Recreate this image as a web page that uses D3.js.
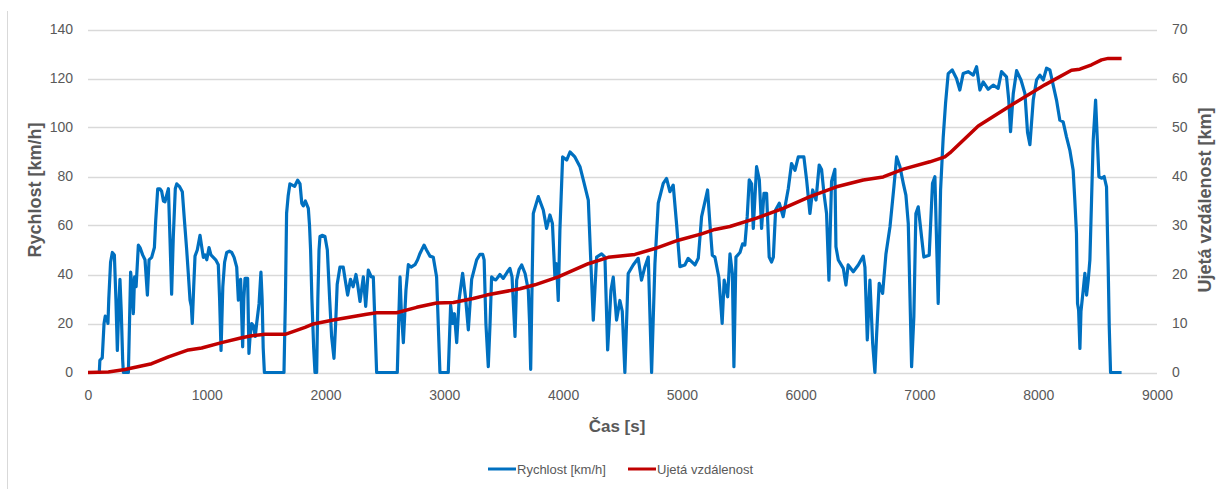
<!DOCTYPE html>
<html><head><meta charset="utf-8">
<script src="https://cdn.jsdelivr.net/npm/d3@7"></script>
<style>body{margin:0;background:#fff} svg{display:block}</style>
</head><body><svg id="c" width="1229" height="489"></svg>
<script>
const speedTime=[0,95,100,120,135,145,160,168,175,190,205,222,235,247,258,269,280,292,298,340,359,370,382,392,405,424,438,460,480,500,514,536,559,570,587,605,620,635,648,660,677,690,704,718,735,747,769,794,812,831,845,859,870,878,890,901,920,943,955,971,985,1000,1019,1035,1055,1075,1097,1108,1120,1135,1150,1168,1190,1210,1230,1252,1266,1275,1285,1302,1312,1322,1344,1355,1365,1378,1395,1408,1420,1440,1456,1466,1475,1485,1650,1662,1672,1685,1700,1740,1765,1785,1800,1813,1830,1855,1865,1874,1885,1900,1911,1925,1935,1945,1953,1975,1995,2015,2035,2051,2071,2085,2098,2121,2135,2149,2165,2186,2210,2232,2256,2270,2290,2318,2338,2360,2385,2402,2416,2430,2604,2615,2627,2638,2655,2677,2697,2720,2753,2775,2795,2829,2850,2879,2907,2935,2945,2963,3033,3053,3070,3085,3104,3125,3154,3180,3202,3230,3272,3300,3323,3335,3350,3370,3385,3398,3420,3434,3468,3496,3530,3552,3570,3595,3609,3629,3651,3680,3707,3718,3727,3740,3749,3791,3833,3861,3889,3910,3931,3945,3959,3973,3996,4030,4058,4099,4142,4170,4212,4234,4254,4282,4324,4352,4375,4403,4422,4450,4478,4498,4520,4548,4590,4632,4660,4689,4717,4745,4773,4801,4843,4871,4899,4927,4956,4983,5025,5053,5110,5138,5166,5216,5236,5256,5278,5311,5339,5356,5385,5405,5425,5438,5455,5489,5511,5530,5550,5567,5587,5601,5629,5652,5671,5691,5713,5735,5755,5770,5789,5820,5853,5896,5923,5952,5980,6027,6050,6078,6101,6129,6156,6176,6196,6218,6238,6260,6288,6297,6317,6359,6381,6400,6443,6485,6527,6541,6561,6583,6606,6625,6639,6661,6690,6718,6752,6785,6808,6836,6864,6886,6906,6934,6953,6970,6990,7018,7037,7082,7110,7130,7158,7178,7200,7220,7242,7276,7312,7340,7368,7410,7453,7481,7509,7537,7579,7621,7663,7691,7733,7752,7767,7790,7818,7855,7888,7910,7930,7958,7986,8014,8042,8070,8098,8126,8154,8182,8210,8238,8266,8294,8308,8322,8331,8340,8351,8360,8379,8393,8407,8421,8435,8449,8463,8483,8500,8511,8533,8555,8575,8589,8598,8609,8702];
const speedKmh=[0,0,5,6,20,23,22,20,30,45,49,48,30,9,25,38,25,5,0,0,41,35,24,39,35,52,51,48,46,31.6,46,47,51,62,75,75,74,70,69.7,72,75,55,32,55,75,77,76,73.8,62,50,40,29.5,27,20,35,47.5,50,56,52,47,48,46,51,48,47,46,44,30,9,35,45,49,49.5,49,47,43,29.5,36,38,10.5,30,38.4,38.4,7.8,15,20,19,14.7,20,28,41,30,10,0,0,30,65,72,77,76,78.5,77,69,68,70,67,60,50,30,10,0,0,30,50,55.5,56,55.5,50,29.5,14.7,5.8,20,36,43,43,43,38,31.6,38,35,40,36,29,39,27,41.8,39,39,20,0,0,20,39,25,12.2,33.7,44,43,44,46,48.6,52,50,47.5,47,39,25,0,0,27.5,20,24,12.2,30,40.5,30,17.4,38,46,48.2,48.2,46,20,2.4,20,39,38,37.8,40,38.4,41,42.5,39,14.7,37.7,42,43.9,40.4,33.6,20,1.3,40,64.9,71.8,66.3,58.8,64.3,60.8,38.9,44.4,29.4,58.1,88,86.7,90,88,84,78.6,70.4,44.4,21.4,47.1,48.4,47.1,9.2,33.6,38.9,21.4,29.4,25,0,40.4,43.9,46.6,37.7,43.2,47.1,0,44.4,69.1,77.2,79.2,73.8,76.5,60.2,43.2,43.9,46.6,43.9,46.6,63.6,74.5,60.8,47.9,47.1,38.9,20,37.7,30.9,48.4,40.4,2.4,47.1,49,52.5,52,63.6,78.6,77,58.8,84,78.6,58.8,73.1,73.1,47.1,45.1,47.1,66.3,69.1,63.6,75.1,85.3,82.5,88,88,78.6,64.9,74.5,70.4,84.7,82.9,73.1,64.9,37.7,78,82.9,51.3,45.9,42.5,35.7,43.9,41.1,43.9,47.5,43,13.3,37.7,12,0,15,36.4,32.3,48.4,59.5,75.8,88,84,77.2,72.4,60.8,2.4,22.8,64.9,67.6,55.3,47.1,47.9,77.2,79.9,28.2,74.5,96,110,122,123.5,120,115.3,122,122.8,121.4,124.8,115.3,118.6,115.6,117.3,116,122.8,120.7,111.2,98.3,113.9,123.2,119.4,113.9,98,93,111.2,119.4,121.4,119.4,124.2,123.5,117.3,111.2,103,102.3,96.2,90.8,82.6,70.4,56.8,28.2,25.5,9.8,25,33.7,40.5,31.6,37.7,46,70.4,94.9,111.2,92.2,79.9,79.3,80,75.8,43.1,18.7,0,0];
const distTime=[0,171,311,536,677,845,957,1125,1294,1378,1490,1660,1827,1897,2065,2346,2430,2598,2767,2935,3076,3244,3356,3637,3763,3959,4212,4380,4604,4773,4970,5166,5278,5404,5629,5853,6078,6302,6527,6695,6864,7088,7214,7256,7495,7775,8056,8280,8350,8449,8533,8589,8702];
const distKm=[0,0.1,0.6,1.8,3.2,4.6,5.0,6.1,7.1,7.5,7.8,7.8,9.2,9.9,10.7,11.9,12.2,12.2,13.3,14.2,14.3,15.1,15.8,17.1,17.9,19.5,22.2,23.5,24.1,25.3,27,28.3,29.2,29.8,31.5,33.5,35.9,37.9,39.3,39.9,41.5,43,44,44.8,50.3,54.6,58.7,61.7,61.9,62.8,63.8,64.1,64.1];
const xTicks=[0,1000,2000,3000,4000,5000,6000,7000,8000,9000];
const yLeftTicks=[0,20,40,60,80,100,120,140];
const yRightTicks=[0,10,20,30,40,50,60,70];
const leftTitle="Rychlost [km/h]";
const rightTitle="Ujetá vzdálenost [km]";
const xTitle="Čas [s]";
const legendLabels=["Rychlost [km/h]","Ujetá vzdálenost"];

const svg=d3.select("#c");
const FONT="'Liberation Sans', Arial, sans-serif";
const TXT="#595959";
const L=88,R=1157,T=29.5,B=372.5;
const x=d3.scaleLinear().domain([0,9000]).range([L,R]);
const yL=d3.scaleLinear().domain([0,140]).range([B,T]);
const yR=d3.scaleLinear().domain([0,70]).range([B,T]);

svg.append("line").attr("x1",7.5).attr("x2",7.5).attr("y1",11).attr("y2",489).attr("stroke","#d9d9d9").attr("stroke-width",1);

svg.append("g").selectAll("line").data(yLeftTicks).join("line")
  .attr("x1",L).attr("x2",R).attr("y1",d=>Math.round(yL(d))+0.5).attr("y2",d=>Math.round(yL(d))+0.5)
  .attr("stroke","#d9d9d9").attr("stroke-width",1.3);

function styleAxis(g){g.select(".domain").remove();g.selectAll("text").attr("fill",TXT).style("font-family",FONT).style("font-size","14px");}
svg.append("g").attr("transform",`translate(${L},0)`).call(d3.axisLeft(yL).tickValues(yLeftTicks).tickSize(0).tickPadding(15)).call(styleAxis);
svg.append("g").attr("transform",`translate(${R},0)`).call(d3.axisRight(yR).tickValues(yRightTicks).tickSize(0).tickPadding(15)).call(styleAxis);
svg.append("g").attr("transform",`translate(0,${B})`).call(d3.axisBottom(x).tickValues(xTicks).tickFormat(d3.format("d")).tickSize(0).tickPadding(18)).call(styleAxis);

const speed=speedTime.map((t,i)=>[t,speedKmh[i]]);
const dist=distTime.map((t,i)=>[t,distKm[i]]);
svg.append("path").datum(speed).attr("fill","none").attr("stroke","#0070c0").attr("stroke-width",3.2).attr("stroke-linejoin","round")
  .attr("d",d3.line().x(d=>x(d[0])).y(d=>yL(d[1])));
svg.append("path").datum(dist).attr("fill","none").attr("stroke","#c00000").attr("stroke-width",3.5).attr("stroke-linejoin","round")
  .attr("d",d3.line().x(d=>x(d[0])).y(d=>yR(d[1])));

svg.append("text").attr("transform","translate(41,190) rotate(-90)").attr("text-anchor","middle")
  .attr("fill",TXT).style("font-family",FONT).style("font-size","18px").style("font-weight","bold").text(leftTitle);
svg.append("text").attr("transform","translate(1211,200) rotate(-90)").attr("text-anchor","middle")
  .attr("fill",TXT).style("font-family",FONT).style("font-size","18px").style("font-weight","bold").text(rightTitle);
svg.append("text").attr("x",617).attr("y",432).attr("text-anchor","middle")
  .attr("fill",TXT).style("font-family",FONT).style("font-size","17px").style("font-weight","bold").text(xTitle);

const leg=[{c:"#0070c0",x:488},{c:"#c00000",x:628}];
leg.forEach((l,i)=>{
  svg.append("line").attr("x1",l.x).attr("x2",l.x+28).attr("y1",469).attr("y2",469).attr("stroke",l.c).attr("stroke-width",3);
  svg.append("text").attr("x",l.x+29).attr("y",473.5).attr("fill",TXT).style("font-family",FONT).style("font-size","13px").text(legendLabels[i]);
});
</script>
</body></html>
